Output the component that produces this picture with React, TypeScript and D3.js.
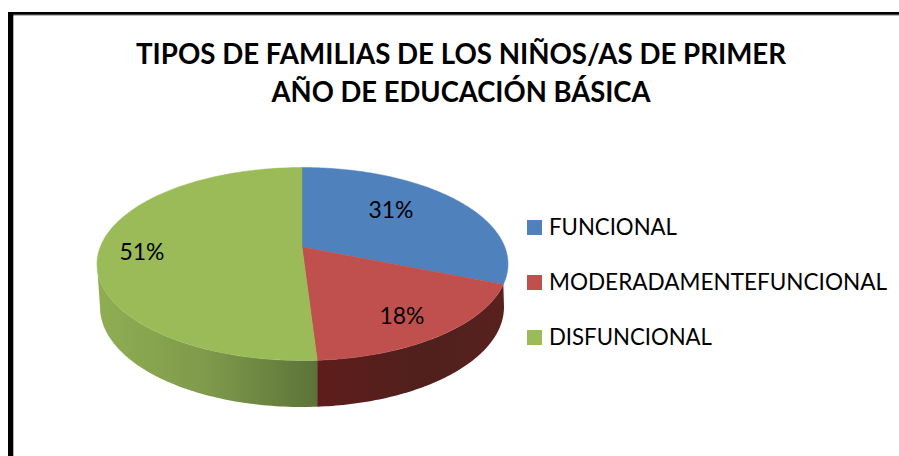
import React from "react";
import * as d3 from "d3";

const titleLines = ["TIPOS DE FAMILIAS DE LOS NIÑOS/AS DE PRIMER", "AÑO DE EDUCACIÓN BÁSICA"];
const categories = ["FUNCIONAL", "MODERADAMENTEFUNCIONAL", "DISFUNCIONAL"];
const values = [31, 18, 51];
const labels = ["31%", "18%", "51%"];
const colors = ["#4f81bd", "#c0504d", "#9bbb59"];

const FONT = "Lato, Carlito, 'Open Sans', sans-serif";
const W = 899, H = 456;
// top face ellipse, and the perspective apex that all slices meet at
const top = { cx: 302.5, cy: 264, rx: 205.5, ry: 96.5 };
const bottom = { cx: 302, cy: 307, rx: 202, ry: 100 };
const apex = { x: 302, y: 247 };

// ray from the apex at pie-angle a, meeting the top ellipse
function rim(a: number): [number, number] {
  const dx = Math.sin(a) * top.rx, dy = -Math.cos(a) * top.ry;
  const ox = apex.x - top.cx, oy = apex.y - top.cy;
  const A = (dx * dx) / top.rx ** 2 + (dy * dy) / top.ry ** 2;
  const B = 2 * ((ox * dx) / top.rx ** 2 + (oy * dy) / top.ry ** 2);
  const C = (ox * ox) / top.rx ** 2 + (oy * oy) / top.ry ** 2 - 1;
  const t = (-B + Math.sqrt(B * B - 4 * A * C)) / (2 * A);
  return [apex.x + t * dx, apex.y + t * dy];
}

const line = d3.line<[number, number]>();
const pieGen = d3.pie<number>().sort(null);
const arcs = pieGen(values);

function slicePath(a0: number, a1: number) {
  const pts: [number, number][] = d3.range(0, 121).map((i) => rim(a0 + ((a1 - a0) * i) / 120));
  return line([[apex.x, apex.y], ...pts]) + "Z";
}

function ell(e: typeof top, th: number): [number, number] {
  return [e.cx + e.rx * Math.cos(th), e.cy + e.ry * Math.sin(th)];
}

// the seam between the two visible side walls sits under the red/green boundary
const seam = rim(arcs[1].endAngle);
const seamBottomTheta = Math.acos((seam[0] - bottom.cx) / bottom.rx);
const seamTopTheta = Math.acos((seam[0] - top.cx) / top.rx);

function sidePath(t0: number, t1: number, b0: number, b1: number) {
  const upper = d3.range(0, 81).map((i) => ell(top, t0 + ((t1 - t0) * i) / 80));
  const lower = d3.range(0, 81).map((i) => ell(bottom, b1 + ((b0 - b1) * i) / 80));
  return line([...upper, ...lower]) + "Z";
}
const redStart = rim(arcs[0].endAngle);
const redTheta = Math.atan2((redStart[1] - top.cy) / top.ry, (redStart[0] - top.cx) / top.rx);

export default function App() {
  return (
    <svg width={W} height={H} viewBox={`0 0 ${W} ${H}`} style={{ position: "absolute", left: 0, top: 0, background: "#fff", display: "block" }}>
      <defs>
        <linearGradient id="greenSide" gradientUnits="userSpaceOnUse" x1={97} x2={317} y1={0} y2={0}>
          <stop offset="0" stopColor="#8fae52" />
          <stop offset="0.5" stopColor="#7f9a4b" />
          <stop offset="1" stopColor="#5c7338" />
        </linearGradient>
        <linearGradient id="redSide" gradientUnits="userSpaceOnUse" x1={317} x2={505} y1={0} y2={0}>
          <stop offset="0" stopColor="#5e1d1b" />
          <stop offset="0.6" stopColor="#4f201c" />
          <stop offset="1" stopColor="#5a211e" />
        </linearGradient>
      </defs>
      {/* frame */}
      <rect x={8} y={12} width={W - 8} height={3} fill="#000" />
      <rect x={13} y={14.5} width={W - 13} height={1} fill="#777" />
      <rect x={8} y={12} width={5.3} height={H - 12} fill="#000" />

      {titleLines.map((t, i) => (
        <text key={t} x={461} y={[64, 101.5][i]} textAnchor="middle" fontFamily={FONT} fontWeight={700} fontSize={29}
          textLength={[650, 379][i]} lengthAdjust="spacingAndGlyphs" fill="#000">{t}</text>
      ))}

      {/* side walls */}
      <path d={sidePath(seamTopTheta, Math.PI, seamBottomTheta, Math.PI)} fill="url(#greenSide)" />
      <path d={sidePath(redTheta, seamTopTheta, 0, seamBottomTheta)} fill="url(#redSide)" />

      {/* top face */}
      {arcs.map((a, i) => (
        <path key={i} d={slicePath(a.startAngle, a.endAngle)} fill={colors[i]} stroke={colors[i]} strokeWidth={0.5} />
      ))}

      {labels.map((l, i) => (
        <text key={l} x={[391, 402, 142][i]} y={[218, 324, 260][i]} textAnchor="middle" fontFamily={FONT} fontSize={23}
          textLength={45} lengthAdjust="spacingAndGlyphs" fill="#000">{l}</text>
      ))}

      {categories.map((c, i) => (
        <g key={c}>
          <rect x={527} y={220 + i * 55} width={15} height={15} fill={colors[i]} />
          <text x={549} y={235 + i * 55} fontFamily={FONT} fontSize={23} textLength={[128, 338, 163][i]}
            lengthAdjust="spacingAndGlyphs" fill="#000">{c}</text>
        </g>
      ))}
    </svg>
  );
}
